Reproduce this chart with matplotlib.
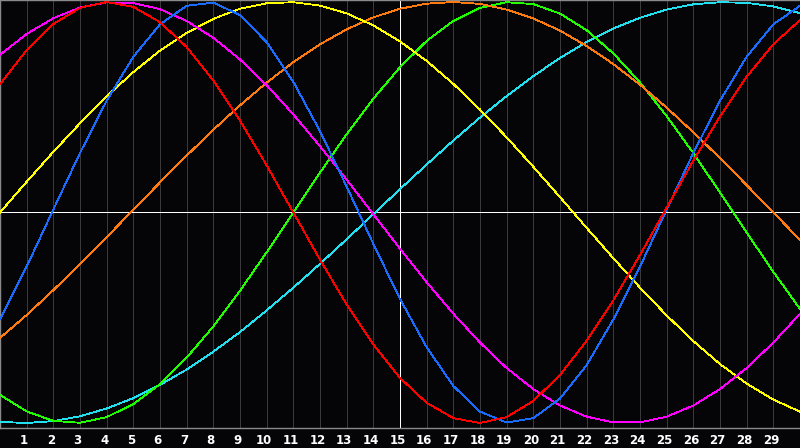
import numpy as np
import matplotlib
matplotlib.use("Agg")
import matplotlib.pyplot as plt
from matplotlib.transforms import ScaledTranslation

# values at x = 0..30
x = list(range(31))

red = [0.609, 0.772, 0.895, 0.972, 1.000, 0.977, 0.904, 0.786, 0.627, 0.437,
       0.224, 0.000, -0.224, -0.437, -0.627, -0.786, -0.904, -0.977, -1.000, -0.972,
       -0.895, -0.772, -0.609, -0.417, -0.202, 0.023, 0.246, 0.457, 0.645, 0.799, 0.914]

blue = [-0.508, -0.257, 0.014, 0.283, 0.531, 0.740, 0.894, 0.982, 0.997, 0.938,
        0.809, 0.621, 0.386, 0.123, -0.149, -0.411, -0.640, -0.824, -0.946, -0.998,
        -0.977, -0.884, -0.725, -0.508, -0.257, 0.014, 0.283, 0.531, 0.740, 0.894, 0.982]

magenta = [0.749, 0.848, 0.923, 0.974, 0.998, 0.995, 0.966, 0.910, 0.830, 0.727,
           0.605, 0.466, 0.315, 0.156, -0.008, -0.172, -0.331, -0.481, -0.618, -0.739,
           -0.839, -0.917, -0.970, -0.997, -0.997, -0.970, -0.917, -0.839, -0.739, -0.618, -0.481]

yellow = [0.000, 0.146, 0.288, 0.424, 0.552, 0.667, 0.769, 0.853, 0.920, 0.968,
          0.994, 0.999, 0.983, 0.946, 0.889, 0.813, 0.720, 0.611, 0.489, 0.357,
          0.217, 0.073, -0.073, -0.217, -0.357, -0.489, -0.611, -0.720, -0.813, -0.889, -0.946]

green = [-0.866, -0.945, -0.990, -0.999, -0.972, -0.910, -0.815, -0.690, -0.541, -0.372,
         -0.189, 0.000, 0.189, 0.372, 0.541, 0.690, 0.815, 0.910, 0.972, 0.999,
         0.990, 0.945, 0.866, 0.756, 0.618, 0.458, 0.282, 0.095, -0.095, -0.282, -0.458]

cyan = [-0.995, -1.000, -0.991, -0.968, -0.931, -0.882, -0.819, -0.746, -0.661, -0.568,
        -0.465, -0.357, -0.244, -0.127, -0.008, 0.111, 0.228, 0.342, 0.451, 0.553,
        0.648, 0.734, 0.810, 0.874, 0.925, 0.964, 0.989, 0.999, 0.996, 0.979, 0.947]

orange = [-0.596, -0.487, -0.369, -0.245, -0.117, 0.013, 0.143, 0.270, 0.393, 0.509,
          0.617, 0.714, 0.799, 0.870, 0.927, 0.968, 0.992, 1.000, 0.991, 0.964,
          0.922, 0.864, 0.791, 0.705, 0.607, 0.498, 0.381, 0.258, 0.130, 0.000, -0.130]

tick_labels = [str(i) for i in range(1, 30)]

series = [
    (cyan, "#22e0f0"),
    (green, "#22ff00"),
    (orange, "#ff7a10"),
    (yellow, "#ffff00"),
    (magenta, "#ff00ff"),
    (blue, "#1a6cff"),
    (red, "#ff0000"),
]

bg = "#050508"
fig = plt.figure(figsize=(8, 4.48), dpi=100, facecolor=bg)
ax = fig.add_axes([0, 20 / 448, 1, 428 / 448], facecolor=bg)

ax.set_xlim(0, 30)
ax.set_ylim(-1.0238, 1.0095)

for i in range(1, 30):
    if i == 15:
        continue
    ax.axvline(i, color="#3a3a3a", linewidth=0.6, zorder=1, antialiased=False)
ax.axvline(15, color="white", linewidth=0.6, zorder=2, antialiased=False)
ax.axhline(0, color="white", linewidth=0.6, zorder=2, antialiased=False)

for vals, col in series:
    ax.plot(x, vals, color=col, linewidth=0.6, zorder=3, antialiased=False)

for s in ["left", "bottom", "top"]:
    ax.spines[s].set_color("#8a8a8a")
    ax.spines[s].set_linewidth(1.0)
ax.spines["right"].set_visible(False)

ax.set_yticks([])
ax.set_xticks(range(1, 30))
ax.set_xticklabels(tick_labels)
ax.tick_params(axis="x", length=0, pad=4, colors="white", labelsize=8.5)
offset = ScaledTranslation(-2.5 / 100, 0, fig.dpi_scale_trans)
for lab in ax.get_xticklabels():
    lab.set_fontweight("bold")
    lab.set_transform(lab.get_transform() + offset)

fig.savefig("out.png", dpi=100, facecolor=bg)
